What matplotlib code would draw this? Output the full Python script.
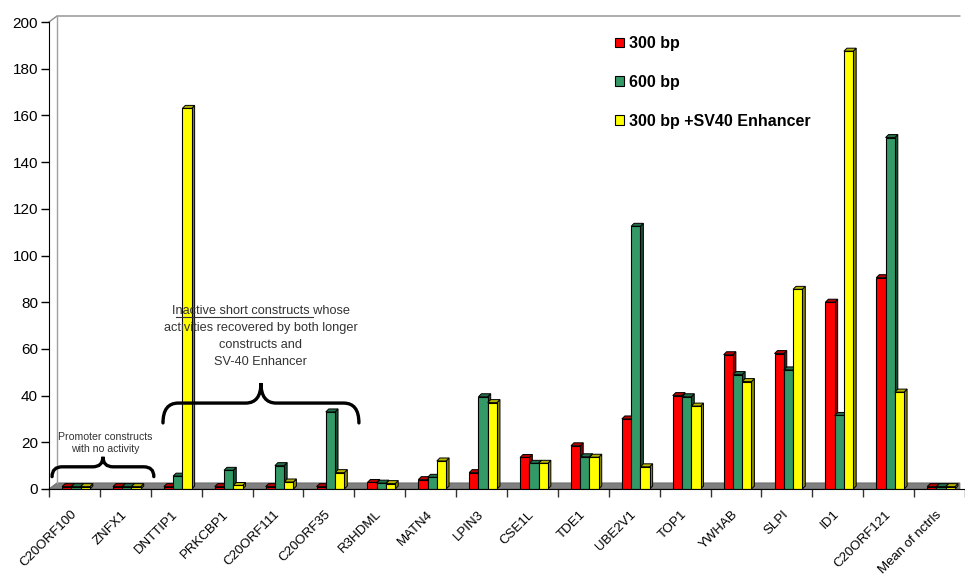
import matplotlib.pyplot as plt
import numpy as np
from matplotlib.patches import Polygon, Patch, PathPatch
from matplotlib.path import Path

genes = ['C20ORF100', 'ZNFX1', 'DNTTIP1', 'PRKCBP1', 'C20ORF111', 'C20ORF35',
         'R3HDML', 'MATN4', 'LPIN3', 'CSE1L', 'TDE1', 'UBE2V1', 'TOP1',
         'YWHAB', 'SLPI', 'ID1', 'C20ORF121', 'Mean of nctrls']
bp300 = [1, 1, 1, 1, 1, 1, 2.8, 4, 7, 13.5, 18.5, 30, 40, 57.5, 58, 80, 90.5, 1]
bp600 = [1, 1, 5.5, 8, 10, 33, 2.5, 5, 39.5, 11, 13.8, 112.5, 39.5, 49, 51,
         31.5, 150.5, 1]
bp300_sv40 = [1, 1, 163, 1.5, 3, 7, 2.3, 12, 37, 11, 13.6, 9.5, 35.5, 46,
              85.5, 187.5, 41.5, 1]
series_names = ['300 bp', '600 bp', '300 bp +SV40 Enhancer']

front_colors = ['#FF0000', '#339966', '#FFFF00']
side_colors = ['#8C0000', '#1C4F36', '#8A8A00']
top_colors = ['#B80000', '#24704A', '#B5B500']

plt.rcParams['font.family'] = ['Liberation Sans', 'DejaVu Sans']

W, H = 965, 575
fig = plt.figure(figsize=(W / 100, H / 100), dpi=100)
ax = fig.add_axes([49 / W, 86 / H, 916 / W, 467 / H])

n = len(genes)
cat_px = 51.18
xmax = -0.5 + 916 / cat_px
ax.set_xlim(-0.5, xmax)
ax.set_ylim(0, 200)

# data units per pixel, used for the fake 3-D depth
ux = (xmax + 0.5) / 916
uy = 200 / 467

# floor and back wall
wdx, wdy = 8 * ux, 6 * uy
ax.add_patch(Polygon([(-0.5, 0), (-0.5 + wdx, wdy), (xmax, wdy), (xmax, 0)],
                     closed=True, facecolor='#808080', edgecolor='#6E6E6E',
                     lw=0.8, zorder=1, clip_on=False))
ax.plot([-0.5, -0.5 + wdx, xmax], [200, 200 + wdy, 200 + wdy],
        color='#8C8C8C', lw=1, clip_on=False, zorder=1)
ax.plot([-0.5 + wdx, -0.5 + wdx], [wdy, 200 + wdy],
        color='#A0A0A0', lw=1, clip_on=False, zorder=1)

# bars: front face, right side and top, drawn series by series
bw = 0.182
bdx, bdy = 3 * ux, 3 * uy
x = np.arange(n)
for i, vals in enumerate([bp300, bp600, bp300_sv40]):
    xs = x + (i - 1) * bw + 0.03
    z = 3 + i * 0.1
    for xc, h in zip(xs, vals):
        x0, x1 = xc - bw / 2, xc + bw / 2
        ax.add_patch(Polygon([(x1, 0), (x1 + bdx, bdy), (x1 + bdx, h + bdy), (x1, h)],
                             closed=True, facecolor=side_colors[i],
                             edgecolor='black', lw=0.7, zorder=z - 0.05))
        ax.add_patch(Polygon([(x0, h), (x0 + bdx, h + bdy), (x1 + bdx, h + bdy), (x1, h)],
                             closed=True, facecolor=top_colors[i],
                             edgecolor='black', lw=0.7, zorder=z - 0.05))
    ax.bar(xs, vals, width=bw, color=front_colors[i], edgecolor='black',
           lw=0.8, zorder=z)

# axes styling
for s in ['top', 'right']:
    ax.spines[s].set_visible(False)
ax.spines['left'].set_color('black')
ax.spines['bottom'].set_color('black')
ax.spines['bottom'].set_zorder(10)
ax.set_yticks(np.arange(0, 201, 20))
ax.tick_params(axis='y', length=6, width=1, pad=2, labelsize=11)
ax.set_xticks(np.arange(-0.5, n, 1))
ax.set_xticklabels([])
ax.set_xticks(x, minor=True)
ax.set_xticklabels(genes, minor=True, rotation=45, ha='right',
                   va='center', rotation_mode='anchor', fontsize=9.5)
ax.tick_params(axis='x', which='major', length=6, width=1, color='#333333')
ax.tick_params(axis='x', which='minor', length=0, pad=17)


def brace(x0, x1, y_end, y_bar, y_tip, r=0.2):
    xm = (x0 + x1) / 2
    verts = [(x0, y_end), (x0, y_bar), (x0 + r, y_bar),
             (xm - r, y_bar), (xm, y_bar), (xm, y_tip),
             (xm, y_bar), (xm + r, y_bar),
             (x1 - r, y_bar), (x1, y_bar), (x1, y_end)]
    codes = [Path.MOVETO, Path.CURVE3, Path.CURVE3,
             Path.LINETO, Path.CURVE3, Path.CURVE3,
             Path.CURVE3, Path.CURVE3,
             Path.LINETO, Path.CURVE3, Path.CURVE3]
    ax.add_patch(PathPatch(Path(verts, codes), facecolor='none',
                           edgecolor='black', lw=2.4, capstyle='round',
                           zorder=6, clip_on=False))


brace(-0.44, 1.56, 5.3, 9.5, 13.8)
brace(1.74, 5.59, 28.3, 36.8, 45.4, r=0.3)

ax.text(0.6, 19.9, 'Promoter constructs\nwith no activity', ha='center',
        va='center', fontsize=7.6, color='#333333', linespacing=1.25, zorder=7)
ax.text(3.66, 65.3, 'Inactive short constructs whose\nactivities recovered by both longer\n'
        'constructs and\nSV-40 Enhancer', ha='center', va='center',
        fontsize=9.2, color='#333333', linespacing=1.58, zorder=7)
ax.plot([2.0, 4.68], [73.6, 73.6], color='#333333', lw=0.8, zorder=7)

handles = [Patch(facecolor=c, edgecolor='black', lw=0.8) for c in front_colors]
fig.legend(handles, series_names, loc='upper left',
           bbox_to_anchor=(615 / W, 1 - 36 / H), frameon=False,
           prop={'weight': 'bold', 'size': 11.5}, handlelength=0.55,
           handleheight=0.55, handletextpad=0.3, labelspacing=1.5,
           borderpad=0, borderaxespad=0)

fig.savefig('out.png', dpi=100)
